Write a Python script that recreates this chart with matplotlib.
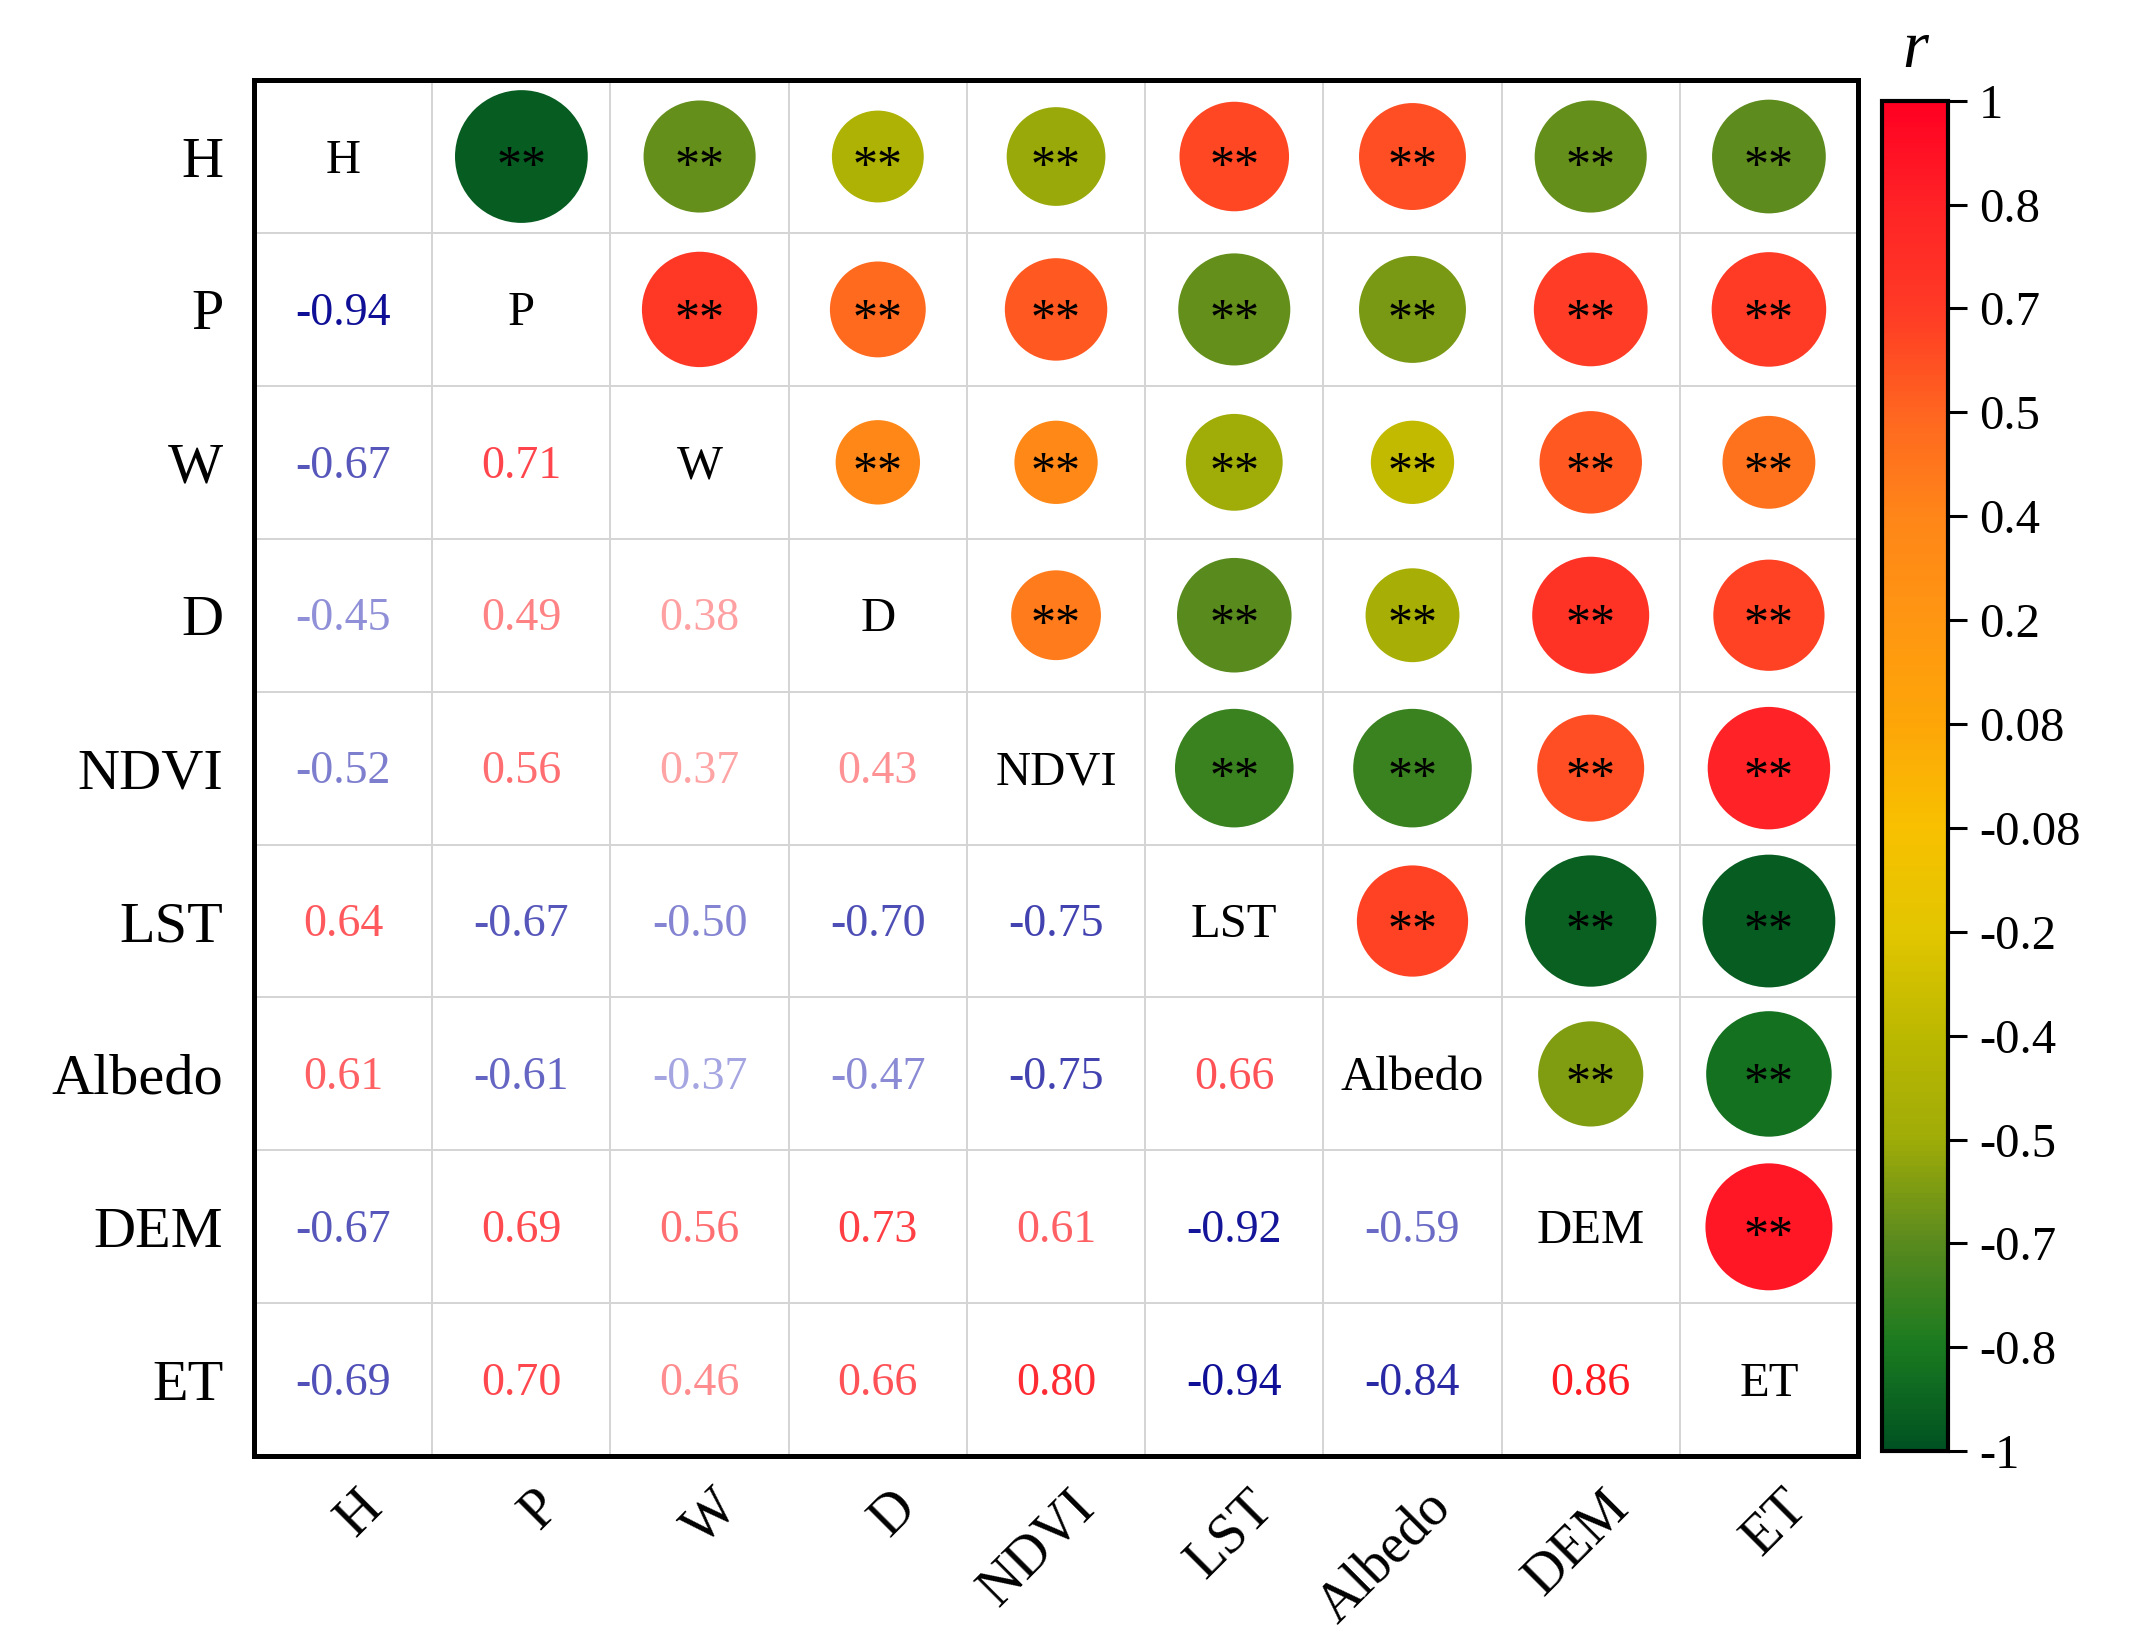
import numpy as np
import matplotlib
matplotlib.use('Agg')
import matplotlib.pyplot as plt
import matplotlib.colors as mcolors
from matplotlib.cm import ScalarMappable
from matplotlib.transforms import ScaledTranslation

plt.rcParams['font.family'] = ['Liberation Serif', 'DejaVu Serif']

# variables
names = ['H', 'P', 'W', 'D', 'NDVI', 'LST', 'Albedo', 'DEM', 'ET']

# lower triangle of the correlation matrix, row by row
r_P = [-0.94]
r_W = [-0.67, 0.71]
r_D = [-0.45, 0.49, 0.38]
r_NDVI = [-0.52, 0.56, 0.37, 0.43]
r_LST = [0.64, -0.67, -0.50, -0.70, -0.75]
r_Albedo = [0.61, -0.61, -0.37, -0.47, -0.75, 0.66]
r_DEM = [-0.67, 0.69, 0.56, 0.73, 0.61, -0.92, -0.59]
r_ET = [-0.69, 0.70, 0.46, 0.66, 0.80, -0.94, -0.84, 0.86]
lower_rows = [[], r_P, r_W, r_D, r_NDVI, r_LST, r_Albedo, r_DEM, r_ET]

# colorbar ticks (evenly spaced on the bar)
cb_ticks = [-1, -0.8, -0.7, -0.5, -0.4, -0.2, -0.08, 0.08, 0.2, 0.4, 0.5, 0.7, 0.8, 1]
cb_labels = ['-1', '-0.8', '-0.7', '-0.5', '-0.4', '-0.2', '-0.08',
             '0.08', '0.2', '0.4', '0.5', '0.7', '0.8', '1']

n = len(names)
R = np.eye(n)
for i, row in enumerate(lower_rows):
    for j, v in enumerate(row):
        R[i, j] = v
        R[j, i] = v

# colours for the circles, one node per colorbar tick
node_colors = ['#005222', '#1a7a20', '#5a8a1e', '#a0ac08', '#bcb800', '#e2c600',
               '#f8c000', '#fda608', '#ff9612', '#ff8618', '#ff6620', '#ff3a25',
               '#ff2326', '#ff0022']
cmap = mcolors.LinearSegmentedColormap.from_list(
    'rg', list(zip(np.linspace(0, 1, len(node_colors)), node_colors)))

pos = np.linspace(0, 1, len(cb_ticks))
def fwd(x):
    return np.interp(x, cb_ticks, pos)
def inv(x):
    return np.interp(x, pos, cb_ticks)
norm = mcolors.FuncNorm((fwd, inv), vmin=-1, vmax=1)

# colours for the numbers in the lower triangle
txt_cmap = mcolors.LinearSegmentedColormap.from_list(
    'bwr2', [(0.0, '#000090'), (0.35, '#b8b8ec'), (0.5, '#ffffff'),
             (0.65, '#ffb8b8'), (0.95, '#ff1018'), (1.0, '#ff0010')])

fig = plt.figure(figsize=(10.765, 8.255), dpi=200)
ax = fig.add_axes([0.118, 0.118, 0.745, 0.8335])
cax = fig.add_axes([0.874, 0.121, 0.031, 0.818])

ax.set_xlim(0, n)
ax.set_ylim(n, 0)

# circles in the upper triangle, area ~ |r|
xs, ys, vals = [], [], []
for i in range(n):
    for j in range(i + 1, n):
        xs.append(j + 0.5)
        ys.append(i + 0.5)
        vals.append(R[i, j])
vals = np.array(vals)
ax.scatter(xs, ys, s=2430 * np.abs(vals), c=vals, cmap=cmap, norm=norm,
           linewidths=0, zorder=3)

star_off = ScaledTranslation(0, -0.055, fig.dpi_scale_trans)
for x, y in zip(xs, ys):
    ax.text(x, y, '**', ha='center', va='center', fontsize=18,
            color='black', zorder=4, transform=ax.transData + star_off)

# numbers in the lower triangle, names on the diagonal
txt_off = ScaledTranslation(0, -0.02, fig.dpi_scale_trans)
for i in range(n):
    ax.text(i + 0.5, i + 0.5, names[i], ha='center', va='center',
            fontsize=17.5, color='black', transform=ax.transData + txt_off)
    for j in range(i):
        v = R[i, j]
        ax.text(j + 0.5, i + 0.5, f'{v:.2f}', ha='center', va='center',
                fontsize=16.5, color=txt_cmap((v + 1) / 2),
                transform=ax.transData + txt_off)

# grid
ax.set_xticks(np.arange(n + 1), minor=True)
ax.set_yticks(np.arange(n + 1), minor=True)
ax.grid(which='minor', color='#d4d4d4', linewidth=0.7)
ax.tick_params(which='both', length=0)

ax.set_xticks(np.arange(n) + 0.5)
ax.set_yticks(np.arange(n) + 0.5)
ax.set_yticklabels(names, fontsize=21)
ax.set_xticklabels(names, fontsize=20, rotation=45, ha='right', va='top',
                   rotation_mode='anchor')
ax.tick_params(axis='y', pad=11)
ax.tick_params(axis='x', pad=9)
xoff = ScaledTranslation(0.06, 0, fig.dpi_scale_trans)
for lab in ax.get_xticklabels():
    lab.set_transform(lab.get_transform() + xoff)

for sp in ax.spines.values():
    sp.set_linewidth(1.8)

# colorbar
cb = fig.colorbar(ScalarMappable(norm=norm, cmap=cmap), cax=cax)
cb.set_ticks(cb_ticks, labels=cb_labels)
cb.ax.tick_params(labelsize=17.5, length=7, width=1.1, pad=4)
cb.outline.set_linewidth(1.5)
cax.set_title('r', fontsize=24, style='italic', pad=12)

fig.savefig('out.png', dpi=200)
